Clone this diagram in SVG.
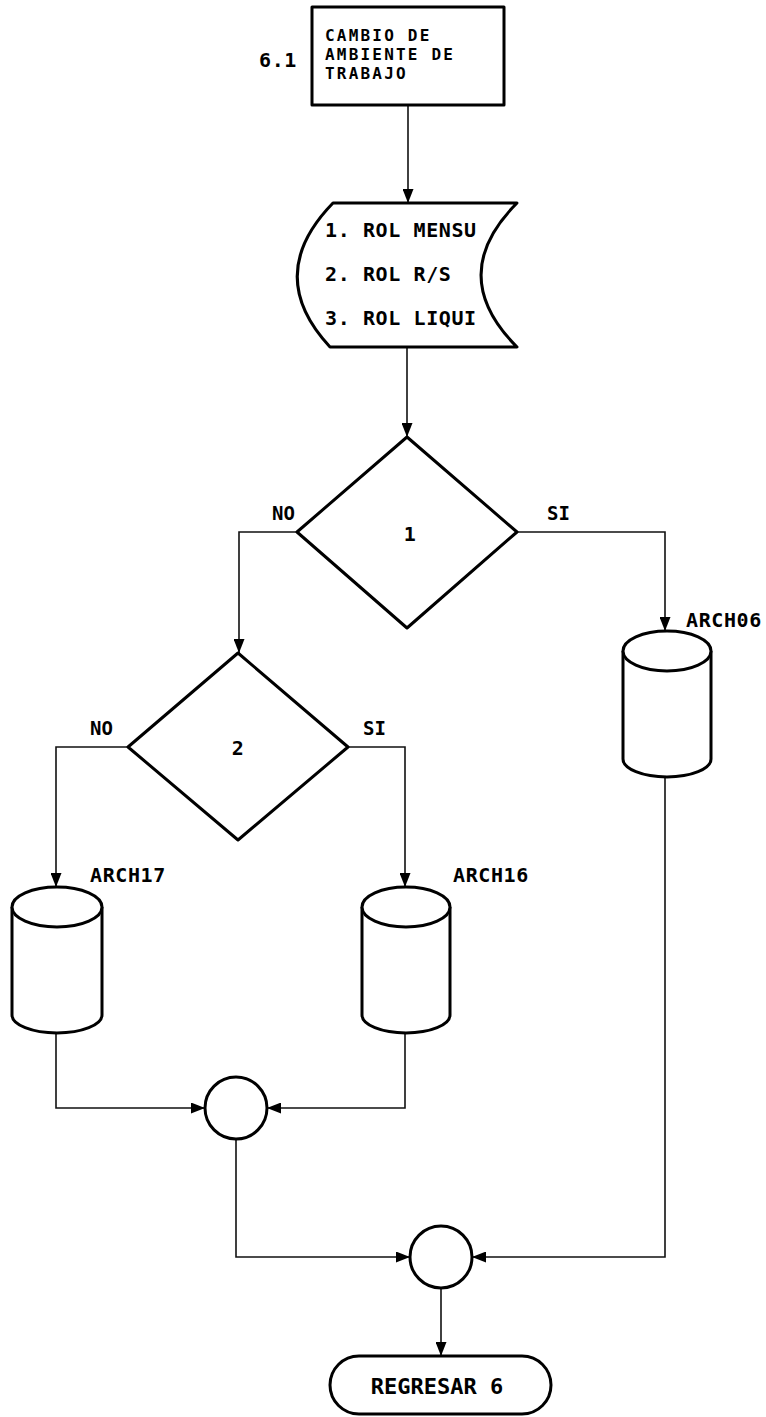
<svg xmlns="http://www.w3.org/2000/svg" width="766" height="1417" viewBox="0 0 766 1417">
<style>
  .shape{fill:#fff;stroke:#000;stroke-width:3;stroke-linejoin:round}
  .conn{fill:none;stroke:#111;stroke-width:1.6}
  text{font-family:"DejaVu Sans Mono","Liberation Mono",monospace;font-weight:bold;fill:#000}
  .t18{font-size:16px;letter-spacing:2.2px}
  .t20{font-size:20px;letter-spacing:0.6px}
  .lab{font-size:19px}
  .mid{text-anchor:middle}
</style>
<defs>
  <marker id="arr" viewBox="0 0 14 11" refX="14" refY="5.5" markerWidth="14" markerHeight="11" markerUnits="userSpaceOnUse" orient="auto">
    <path d="M0,0 L14,5.5 L0,11 Z" fill="#000"/>
  </marker>
</defs>

<g id="connectors">
  <path class="conn" d="M408,105 V203" marker-end="url(#arr)"/>
  <path class="conn" d="M407,347 V437" marker-end="url(#arr)"/>
  <path class="conn" d="M297,532 H239 V653" marker-end="url(#arr)"/>
  <path class="conn" d="M517,532 H665 V631" marker-end="url(#arr)"/>
  <path class="conn" d="M128,747 H56 V887" marker-end="url(#arr)"/>
  <path class="conn" d="M348,747 H405 V887" marker-end="url(#arr)"/>
  <path class="conn" d="M56,1033 V1108 H205" marker-end="url(#arr)"/>
  <path class="conn" d="M405,1033 V1108 H267" marker-end="url(#arr)"/>
  <path class="conn" d="M236,1139 V1257 H410" marker-end="url(#arr)"/>
  <path class="conn" d="M665,777 V1257 H472" marker-end="url(#arr)"/>
  <path class="conn" d="M441,1288 V1356" marker-end="url(#arr)"/>
</g>

<g id="n-6-1">
  <rect class="shape" x="312" y="7" width="192" height="98"/>
  <text class="t18" x="325" y="41">CAMBIO DE</text>
  <text class="t18" x="325" y="60">AMBIENTE DE</text>
  <text class="t18" x="325" y="79">TRABAJO</text>
  <text class="t20" x="259" y="67">6.1</text>
</g>

<g id="n-display">
  <path class="shape" d="M333,203 L517,203 Q445,275 517,347 L330,347 Q263,275 333,203 Z"/>
  <text class="t20" x="325" y="237">1. ROL MENSU</text>
  <text class="t20" x="325" y="281">2. ROL R/S</text>
  <text class="t20" x="325" y="325">3. ROL LIQUI</text>
</g>

<g id="n-dec1">
  <polygon class="shape" points="407,437 517,532 407,628 297,532"/>
  <text class="t20 mid" x="410" y="541">1</text>
  <text class="lab" x="272" y="520">NO</text>
  <text class="lab" x="547" y="520">SI</text>
</g>

<g id="n-dec2">
  <polygon class="shape" points="238,653 348,747 238,840 128,747"/>
  <text class="t20 mid" x="238" y="755">2</text>
  <text class="lab" x="90" y="735">NO</text>
  <text class="lab" x="363" y="735">SI</text>
</g>

<g id="n-arch06">
  <path class="shape" d="M623,651 V759 A44,18 0 0 0 711,759 V651"/>
  <ellipse class="shape" cx="667" cy="651" rx="44" ry="20"/>
  <text class="t20" x="686" y="627">ARCH06</text>
</g>

<g id="n-arch17">
  <path class="shape" d="M12,907 V1015 A45,18 0 0 0 102,1015 V907"/>
  <ellipse class="shape" cx="57" cy="907" rx="45" ry="20"/>
  <text class="t20" x="90" y="882">ARCH17</text>
</g>

<g id="n-arch16">
  <path class="shape" d="M362,907 V1015 A44,18 0 0 0 450,1015 V907"/>
  <ellipse class="shape" cx="406" cy="907" rx="44" ry="20"/>
  <text class="t20" x="453" y="882">ARCH16</text>
</g>

<g id="n-join1">
  <circle class="shape" cx="236" cy="1108" r="31"/>
</g>

<g id="n-join2">
  <circle class="shape" cx="441" cy="1257" r="31"/>
</g>

<g id="n-end">
  <rect class="shape" x="330" y="1356" width="221" height="58" rx="29" ry="29"/>
  <text class="mid" x="437" y="1394" style="font-size:22px">REGRESAR 6</text>
</g>
</svg>
